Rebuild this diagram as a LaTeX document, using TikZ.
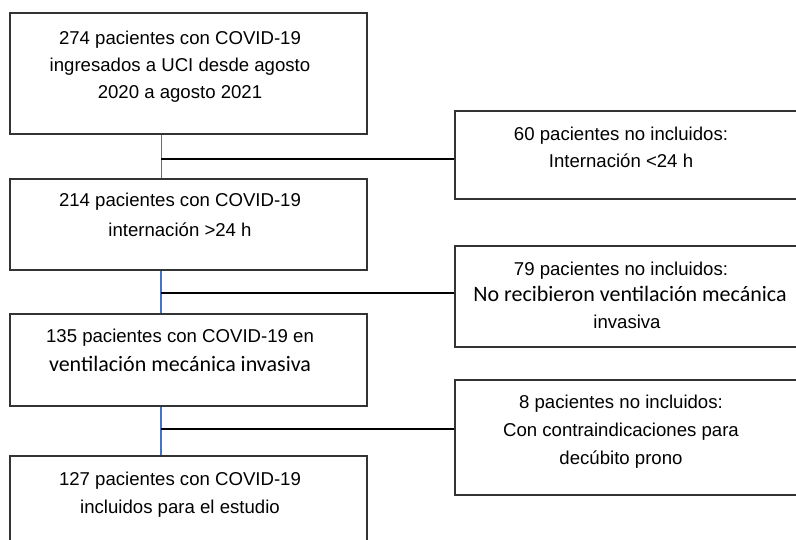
\documentclass[tikz,border=0pt]{standalone}
\usepackage{fontspec}
\setmainfont{Liberation Sans}
\newfontfamily\calibrifont{Carlito}
\usepackage{tikz}

\definecolor{lineblue}{HTML}{4472C4}
\definecolor{boxgray}{HTML}{333333}

\begin{document}
\begin{tikzpicture}[x=1pt, y=-1pt]
\tikzstyle{every node} = [font = \fontsize{18.6}{27}\selectfont, inner sep = 0pt]
\tikzstyle{box} = [draw = boxgray, line width = 1.1pt, rectangle]
\tikzstyle{boxtext} = [anchor = base, align = center]
\tikzstyle{bluelink} = [draw = lineblue, line width = 1.4pt]
\tikzstyle{sidelink} = [draw = black, line width = 2pt]
\useasboundingbox (0,0) rectangle (796,540);
\clip (0,0) rectangle (796,540);
		% main column
		\node [box, minimum width = 357pt, minimum height = 121pt] (b1) at (188.5,73.5) {};
		\node [box, minimum width = 357pt, minimum height = 91pt] (b2) at (188.5,224.5) {};
		\node [box, minimum width = 357pt, minimum height = 92pt] (b3) at (188.5,360) {};
		\node [box, minimum width = 357pt, minimum height = 110pt] (b4) at (188.5,511) {};
		% text nodes sit on the baseline of their last line
		\node [boxtext] (b1txt) at (180,99) {274 pacientes con COVID-19\\ingresados a UCI desde agosto\\2020 a agosto 2021};
		\node [boxtext, font = \fontsize{18.6}{30}\selectfont] (b2txt) at (180,237) {214 pacientes con COVID-19\\internaci\'on >24 h};
		\node [boxtext, font = \fontsize{18.6}{29}\selectfont] (b3txt) at (180,372) {135 pacientes con COVID-19 en\\{\calibrifont\fontsize{22}{29}\selectfont ventilaci\'on mec\'anica invasiva}};
		\node [boxtext, font = \fontsize{18.6}{28}\selectfont] (b4txt) at (180,513) {127 pacientes con COVID-19\\incluidos para el estudio};
		% excluded
		\node [box, minimum width = 360pt, minimum height = 88pt] (r1) at (635,155) {};
		\node [box, minimum width = 360pt, minimum height = 101pt] (r2) at (635,296.5) {};
		\node [box, minimum width = 360pt, minimum height = 115pt] (r3) at (635,437.5) {};
		\node [boxtext] (r1txt) at (621,168) {60 pacientes no incluidos:\\Internaci\'on <24 h};
		\node [boxtext] (r2txt) at (621,329) {79 pacientes no incluidos:\\\hspace*{18pt}{\calibrifont\fontsize{22}{27}\selectfont No recibieron ventilaci\'on mec\'anica}\\\hspace*{12pt}invasiva};
		\node [boxtext, font = \fontsize{18.6}{28}\selectfont] (r3txt) at (621,464) {8 pacientes no incluidos:\\Con contraindicaciones para\\decúbito prono};
		% junctions
		\coordinate (j1) at (161,159);
		\coordinate (j2) at (161,293);
		\coordinate (j3) at (161,429);
		\draw [draw = lineblue, line width = 1pt] (b1.south -| j1) -- (b2.north -| j1);
		\draw [bluelink] (b2.south -| j2) -- (b3.north -| j2);
		\draw [bluelink] (b3.south -| j3) -- (b4.north -| j3);
		\draw [sidelink] (j1) -- (r1.west |- j1);
		\draw [sidelink] (j2) -- (r2.west |- j2);
		\draw [sidelink] (j3) -- (r3.west |- j3);
\end{tikzpicture}
\end{document}
